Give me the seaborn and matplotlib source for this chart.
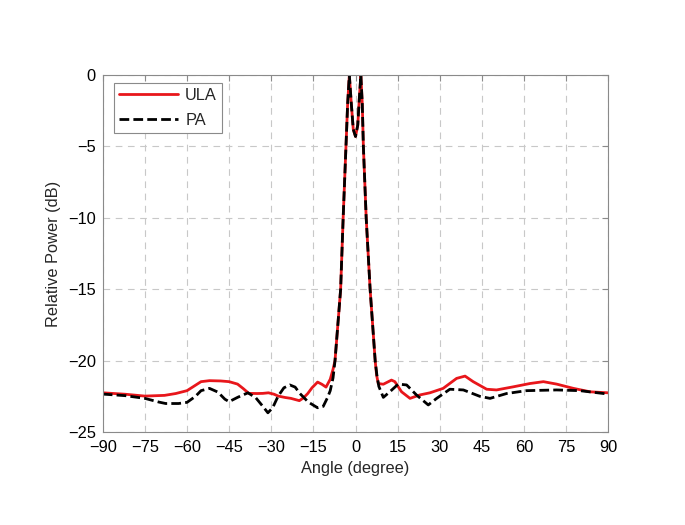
import pandas as pd
import matplotlib
matplotlib.use("Agg")
import matplotlib.pyplot as plt
import seaborn as sns

# ULA pattern
ula_angle = [-90, -82, -75, -68, -64, -60, -55, -52, -48, -45, -42, -40, -38, -35, -33, -31,
             -29, -27.5, -25, -23, -20, -18.5, -17, -15.5, -13.5, -12, -10.5, -9, -8, -7.3,
             -5.3, -4.4, -3.4, -2.8, -2.2, -1.5, -0.8, 0, 0.8, 1.4, 1.9, 2.4, 2.8, 3.8, 5.2,
             7.0, 7.5, 8.1, 9.9, 12.8, 14, 16.4, 19.4, 22.9, 26.5, 31.2, 36, 39, 41.9, 46.7,
             50.2, 56.2, 62.1, 66.9, 71.6, 77.6, 83.5, 90]
ula_db = [-22.25, -22.35, -22.48, -22.43, -22.3, -22.1, -21.47, -21.4, -21.42, -21.47, -21.64,
          -21.95, -22.29, -22.3, -22.29, -22.25, -22.35, -22.48, -22.58, -22.64, -22.8, -22.6,
          -22.3, -21.9, -21.5, -21.65, -21.85, -21.3, -20.6, -20.0,
          -15, -10, -5, -2, 0, -2, -3.8, -4.3, -3.5, -1.5, 0, -2, -5, -10, -15,
          -20, -21, -21.6, -21.65, -21.36, -21.47, -22.18, -22.64, -22.4, -22.25, -21.94,
          -21.24, -21.08, -21.47, -22.0, -22.05, -21.83, -21.6, -21.47, -21.64, -21.94,
          -22.18, -22.25]

# PA pattern
pa_angle = [-90, -82, -75, -70, -67.6, -63, -60, -57, -55, -52, -49, -46.5, -45, -42, -38.3,
            -35.5, -33, -31.2, -29.5, -27.6, -25.5, -23.4, -21.5, -19.8, -16.8, -13.5, -11.5,
            -10, -9, -8, -7.3, -5.3, -4.4, -3.4, -2.8, -2.2, -1.5, -0.8, 0, 0.8, 1.4, 1.9,
            2.4, 2.8, 3.8, 5.2, 7.0, 7.6, 8.3, 9.9, 12.2, 15.2, 18.2, 21.7, 25.9, 28.9, 33.6,
            38.4, 44.3, 47.9, 53.8, 60.9, 71.6, 79.9, 90]
pa_db = [-22.34, -22.45, -22.64, -22.9, -23.0, -23.0, -22.92, -22.5, -22.1, -21.94, -22.2,
         -22.7, -22.87, -22.57, -22.25, -22.6, -23.2, -23.65, -23.3, -22.5, -21.9, -21.7,
         -21.85, -22.3, -22.9, -23.3, -23.2, -22.6, -22.1, -21.2, -20.0,
         -15, -10, -5, -2, 0, -2, -3.8, -4.3, -3.5, -1.5, 0, -2, -5, -10, -15,
         -20, -21, -21.8, -22.57, -22.18, -21.64, -21.7, -22.4, -23.1, -22.64, -22.0,
         -22.05, -22.5, -22.64, -22.3, -22.1, -22.05, -22.1, -22.34]

x_ticks = list(range(-90, 91, 15))
y_ticks = [0, -5, -10, -15, -20, -25]

df_ula = pd.DataFrame({"angle": ula_angle, "power": ula_db})
df_pa = pd.DataFrame({"angle": pa_angle, "power": pa_db})

sns.set_style("white")
plt.rcParams["font.family"] = ["Liberation Sans", "DejaVu Sans"]
plt.rcParams["font.size"] = 11.8

fig = plt.figure(figsize=(6.85, 5.25), dpi=100)
ax = fig.add_axes([0.150, 0.177, 0.738, 0.680])

sns.lineplot(data=df_ula, x="angle", y="power", color="#e8161b", lw=2, label="ULA",
             estimator=None, sort=False, ax=ax)
sns.lineplot(data=df_pa, x="angle", y="power", color="black", lw=2, ls="--", label="PA",
             estimator=None, sort=False, ax=ax)
ax.lines[1].set_dashes([3.5, 1.5])

ax.set_xlim(-90, 90)
ax.set_ylim(-25, 0)
ax.set_xticks(x_ticks)
ax.set_yticks(y_ticks)
ax.grid(True, color="#c8c8c8", ls=(0, (6, 5)), lw=0.8)
for s in ax.spines.values():
    s.set_color("#8a8a8a")
    s.set_linewidth(0.8)
ax.tick_params(direction="in", length=4, color="#8a8a8a", top=True, right=True,
               labelcolor="black")
ax.tick_params(axis="x", pad=6)
ax.tick_params(axis="y", pad=5)
ax.set_xlabel("Angle (degree)", labelpad=4)
ax.set_ylabel("Relative Power (dB)", labelpad=5)

leg = ax.legend(loc="upper left", fancybox=False, framealpha=1, edgecolor="#8a8a8a",
                handlelength=3.6, handletextpad=0.45, borderpad=0.3, labelspacing=0.6,
                borderaxespad=0, bbox_to_anchor=(0.022, 0.978))
leg.get_frame().set_linewidth(0.8)

fig.savefig("out.png", dpi=100)
